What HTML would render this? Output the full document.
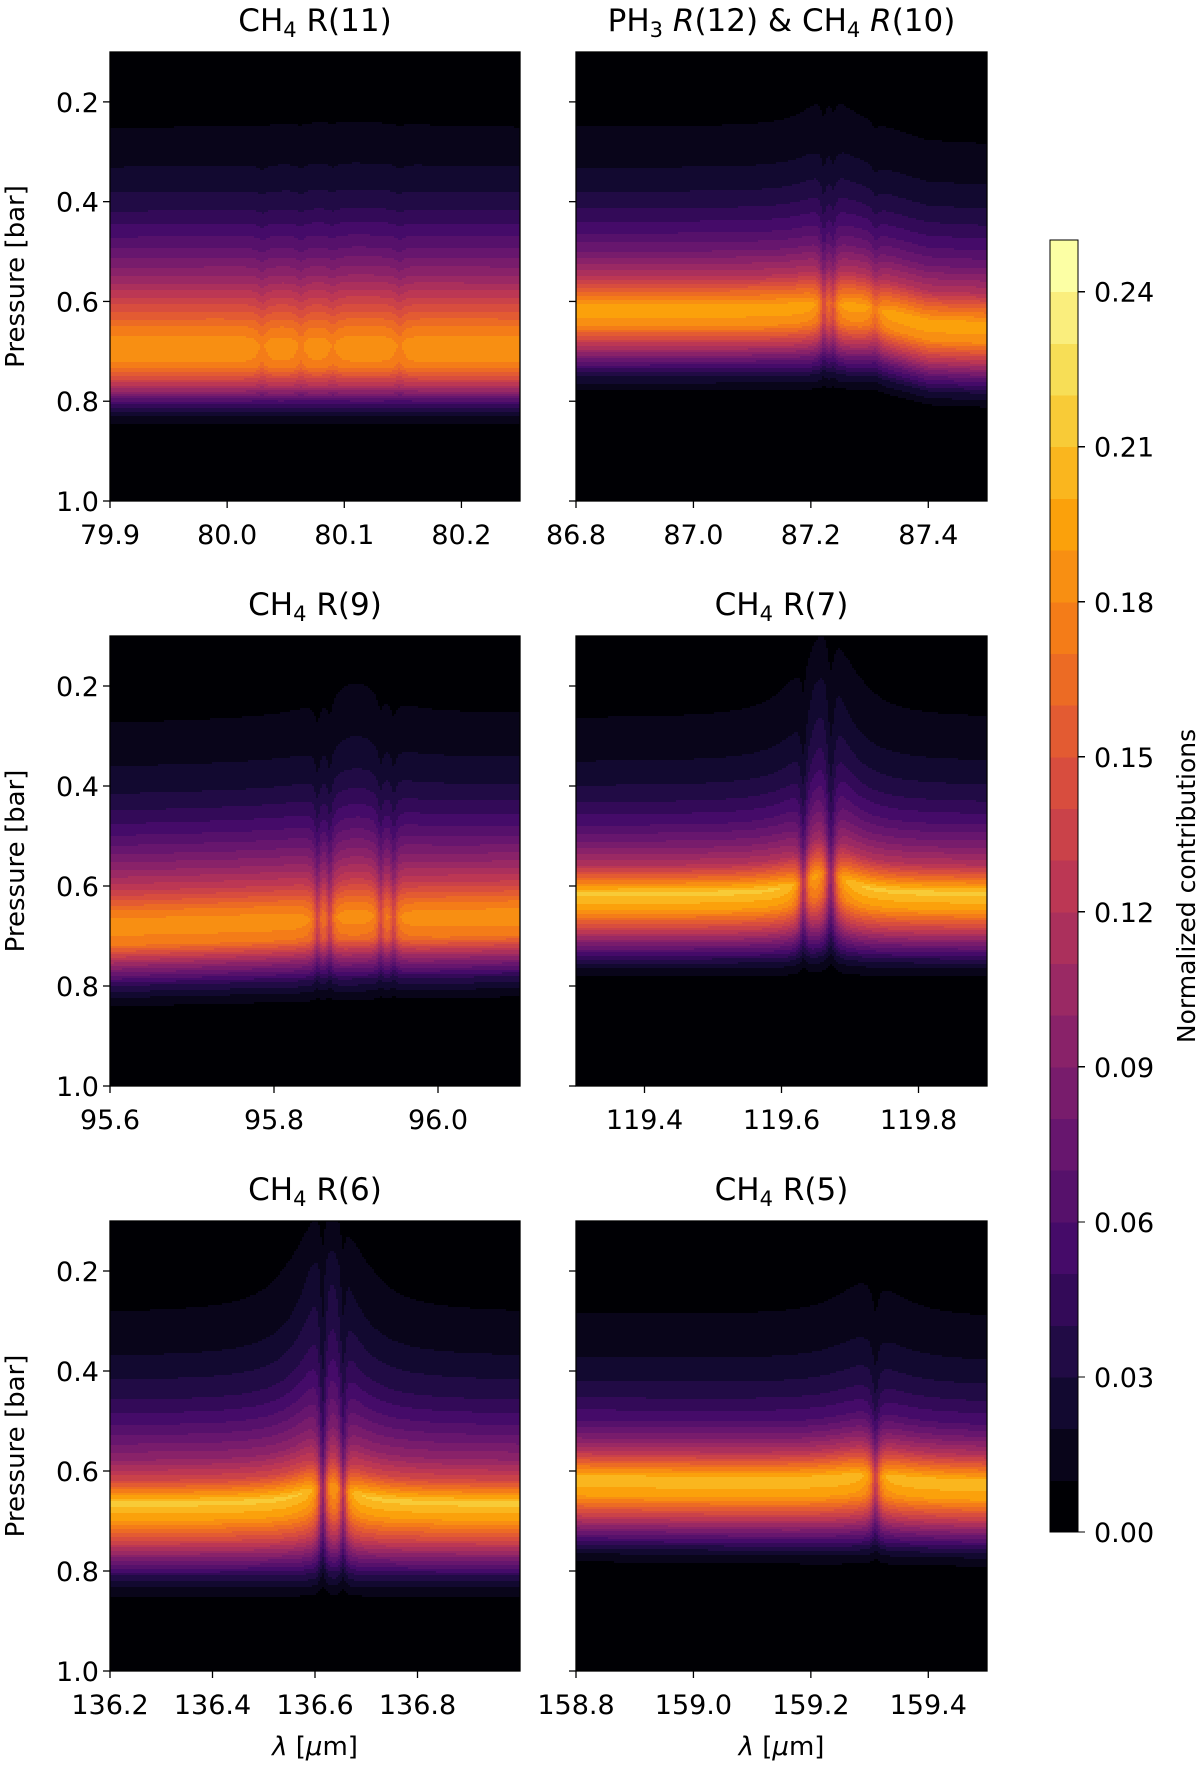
<!DOCTYPE html>
<html><head><meta charset="utf-8"><style>
html,body{margin:0;padding:0;background:#fff;}
svg{display:block;font-family:"DejaVu Sans","Liberation Sans",sans-serif;}
</style></head>
<body>
<svg id="fig" width="1200" height="1767" viewBox="0 0 1200 1767" xmlns="http://www.w3.org/2000/svg"></svg>
<script>
// ---- data ----
const panelTitles = [["CH","4"," R(11)"],["PH","3"," R(12) & CH","4"," R(10)"],["CH","4"," R(9)"],["CH","4"," R(7)"],["CH","4"," R(6)"],["CH","4"," R(5)"]];
const xRanges = [[79.9,80.25],[86.8,87.5],[95.6,96.1],[119.3,119.9],[136.2,137.0],[158.8,159.5]];
const xTicks = [[79.9,80.0,80.1,80.2],[86.8,87.0,87.2,87.4],[95.6,95.8,96.0],[119.4,119.6,119.8],[136.2,136.4,136.6,136.8],[158.8,159.0,159.2,159.4]];
const yTicks = [0.2,0.4,0.6,0.8,1.0];
const cbTicks = [0.00,0.03,0.06,0.09,0.12,0.15,0.18,0.21,0.24];
// base vertical contribution profiles: pressure nodes and values
const profP = [
 [0.1,0.2,0.24,0.26,0.3,0.34,0.38,0.42,0.46,0.5,0.55,0.6,0.65,0.69,0.73,0.77,0.8,0.83,0.85,0.9,1.0],
 [0.1,0.2,0.24,0.26,0.3,0.34,0.38,0.42,0.46,0.5,0.55,0.58,0.615,0.65,0.69,0.72,0.75,0.78,0.8,1.0],
 [0.1,0.2,0.25,0.28,0.32,0.36,0.4,0.44,0.48,0.52,0.56,0.6,0.64,0.67,0.71,0.75,0.79,0.82,0.84,0.9,1.0],
 [0.1,0.2,0.25,0.28,0.32,0.36,0.4,0.44,0.48,0.52,0.56,0.59,0.615,0.65,0.69,0.72,0.75,0.77,0.79,1.0],
 [0.1,0.2,0.27,0.3,0.34,0.38,0.42,0.46,0.5,0.54,0.58,0.62,0.665,0.7,0.74,0.78,0.81,0.84,0.86,1.0],
 [0.1,0.2,0.27,0.3,0.34,0.38,0.42,0.46,0.5,0.53,0.56,0.59,0.615,0.65,0.69,0.72,0.75,0.77,0.79,1.0]
];
const profV = [
 [0,0.002,0.008,0.011,0.016,0.021,0.029,0.04,0.055,0.072,0.1,0.135,0.17,0.19,0.178,0.12,0.06,0.02,0.008,0,0],
 [0,0.002,0.009,0.011,0.016,0.021,0.03,0.042,0.058,0.08,0.12,0.16,0.2,0.18,0.12,0.07,0.03,0.008,0,0],
 [0,0.002,0.009,0.011,0.016,0.021,0.028,0.04,0.055,0.075,0.1,0.13,0.17,0.19,0.17,0.1,0.04,0.015,0.006,0,0],
 [0,0.002,0.009,0.011,0.016,0.021,0.03,0.042,0.06,0.085,0.12,0.17,0.215,0.19,0.13,0.08,0.035,0.015,0.006,0],
 [0,0.003,0.009,0.011,0.016,0.021,0.03,0.04,0.055,0.075,0.1,0.14,0.215,0.19,0.14,0.08,0.04,0.015,0.006,0],
 [0,0.003,0.009,0.011,0.016,0.021,0.03,0.042,0.06,0.085,0.12,0.17,0.21,0.19,0.13,0.08,0.035,0.015,0.006,0]
];
// spectral line features per panel
const lineCenters = [[80.03,80.063,80.09,80.147],[87.222,87.238,87.31],[95.853,95.868,95.93,95.946],[119.632,119.672],[136.615,136.655],[159.31]];
const lineDips = [[0.06,0.06,0.05,0.06],[0.25,0.2,0.12],[0.25,0.25,0.22,0.22],[0.4,0.5],[0.5,0.4],[0.35]];
const lineWidths = [[0.004,0.004,0.004,0.004],[0.006,0.006,0.008],[0.004,0.004,0.004,0.004],[0.006,0.008],[0.008,0.007],[0.007]];
const broadCenters = [80.1,87.23,95.9,119.665,136.625,159.3];
const broadWidths = [0.08,0.05,0.05,0.045,0.07,0.07];
const broadShifts = [0.015,0.06,0.07,0.19,0.23,0.08];
// pressure offset drifting with wavelength (x node, p offset)
const driftX = [[79.9,80.25],[86.8,87.3,87.4,87.5],[95.6,96.1],[119.3,119.9],[136.2,137.0],[158.8,159.5]];
const driftP = [[0,0],[0,0,0.03,0.035],[0.01,-0.01],[0,0],[0,0],[0,0.01]];

// ---- colormap (inferno) ----
const inf=[[0,0,4],[22,11,57],[66,10,104],[106,23,110],[147,38,103],[188,55,84],[221,81,58],[243,120,25],[252,165,10],[246,215,70],[252,255,164]];
function infColor(t){t=Math.max(0,Math.min(1,t));const f=t*10,i=Math.min(9,Math.floor(f)),u=f-i;const a=inf[i],b=inf[i+1];
 return "rgb("+[0,1,2].map(k=>Math.round(a[k]+(b[k]-a[k])*u)).join(",")+")";}
const NLEV=25;
function levColor(i){return infColor(i/(NLEV-1));}

const NS="http://www.w3.org/2000/svg";
const svg=document.getElementById("fig");
function mk(tag,attrs,parent){const e=document.createElementNS(NS,tag);for(const k in attrs)e.setAttribute(k,attrs[k]);(parent||svg).appendChild(e);return e;}

const colX=[[110,520],[576,987]];
const rowY=[[52,501],[636,1086],[1221,1671]];
const titleY=[31,615,1200];
const tickLblY=[544,1129,1714];

function interp(xs,ys,x){if(x<=xs[0])return ys[0];for(let i=1;i<xs.length;i++){if(x<=xs[i]){const u=(x-xs[i-1])/(xs[i]-xs[i-1]);return ys[i-1]+(ys[i]-ys[i-1])*u;}}return ys[ys.length-1];}
function lor(x,c,w){const d=(x-c)/w;return 1/(1+d*d);}

function value(k,x,p){
 let sh=broadShifts[k]*lor(x,broadCenters[k],broadWidths[k]);
 let depth=Math.max(0,Math.min(1,(0.9-p)/0.7));
 depth=depth*depth;
 let pe=p+sh*depth - interp(driftX[k],driftP[k],x);
 let v=interp(profP[k],profV[k],pe);
 let dip=0;
 for(let j=0;j<lineCenters[k].length;j++){dip+=lineDips[k][j]*lor(x,lineCenters[k][j],lineWidths[k][j]);}
 return v*Math.max(0,1-dip);
}

for(let k=0;k<6;k++){
 const c=k%2,r=Math.floor(k/2);
 const [x0,x1]=colX[c],[y0,y1]=rowY[r];
 const [xmin,xmax]=xRanges[k];
 const sx=v=>x0+(v-xmin)/(xmax-xmin)*(x1-x0);
 const sy=p=>y0+(p-0.1)/0.9*(y1-y0);
 const g=mk("g",{});
 
 
 const hm=mk("g",{"shape-rendering":"crispEdges"},g);
 
 
 const cw=2,ch=2;
 for(let py=y0;py<y1;py+=ch){
  const p=0.1+((py+ch/2)-y0)/(y1-y0)*0.9;
  const h=Math.min(ch,y1-py)+0.3;
  let runStart=x0,runLev=-1;
  const flush=(endX)=>{
   if(runLev<0)return;
   const re=mk("rect",{x:runStart,y:py,width:endX-runStart+0.3,height:h,fill:levColor(runLev)},hm);
   
   
  };
  for(let px=x0;px<x1;px+=cw){
   const x=xmin+((px+cw/2)-x0)/(x1-x0)*(xmax-xmin);
   const lev=Math.max(0,Math.min(NLEV-1,Math.floor(value(k,x,p)/0.01)));
   if(lev!==runLev){flush(px);runStart=px;runLev=lev;}
  }
  flush(x1);
 }
 const fr=mk("rect",{x:x0,y:y0,width:x1-x0,height:y1-y0,fill:"none",stroke:"#000","stroke-width":1.3},g);
 
 
 yTicks.forEach(t=>{const y=sy(t);mk("line",{x1:x0-7,x2:x0,y1:y,y2:y,stroke:"#000","stroke-width":1.3},g);
  if(c===0){const tx=mk("text",{x:x0-11,y:y+10,"text-anchor":"end","font-size":27,fill:"#000"},g);tx.textContent=t.toFixed(1);
   
   }});
 xTicks[k].forEach(t=>{const x=sx(t);mk("line",{x1:x,x2:x,y1:y1,y2:y1+7,stroke:"#000","stroke-width":1.3},g);
  const tx=mk("text",{x:x,y:tickLblY[r],"text-anchor":"middle","font-size":27,fill:"#000"},g);tx.textContent=t.toFixed(1);
  
  });
 const tt=mk("text",{x:(x0+x1)/2,y:titleY[r],"text-anchor":"middle","font-size":31,fill:"#000"},g);
 
 
 panelTitles[k].forEach((s,i)=>{
  if(i%2===1){const sp=mk("tspan",{"font-size":21,dy:6},tt);sp.textContent=s;}
  else{
   const parts=s.split(/(R)(?=\()/);
   parts.forEach((pt,j)=>{const sp=mk("tspan",{},tt);if(i>0&&j===0)sp.setAttribute("dy",-6);
    if(pt==="R"&&k===1)sp.setAttribute("font-style","italic");sp.textContent=pt;});
  }
 });
 if(c===0){const yl=mk("text",{x:0,y:0,transform:"translate(24,"+((y0+y1)/2)+") rotate(-90)","text-anchor":"middle","font-size":26,fill:"#000"},g);
  yl.textContent="Pressure [bar]";
  
  }
 if(r===2){const xl=mk("text",{x:(x0+x1)/2,y:1755,"text-anchor":"middle","font-size":26,fill:"#000"},g);
  const a=mk("tspan",{"font-style":"italic"},xl);a.textContent="λ";
  const b=mk("tspan",{},xl);b.textContent=" [";
  const m=mk("tspan",{"font-style":"italic"},xl);m.textContent="μ";
  const d=mk("tspan",{},xl);d.textContent="m]";
  
  }
}
// colorbar
const cb=mk("g",{"shape-rendering":"crispEdges"});


const cbx0=1050,cbx1=1078,cby0=240,cby1=1532,cbMax=0.25;
const cy=v=>cby1-(v/cbMax)*(cby1-cby0);
for(let i=0;i<NLEV;i++){const re=mk("rect",{x:cbx0,y:cy((i+1)*0.01),width:cbx1-cbx0,height:cy(i*0.01)-cy((i+1)*0.01)+0.5,fill:levColor(i)},cb);
 
 }
mk("rect",{x:cbx0,y:cby0,width:cbx1-cbx0,height:cby1-cby0,fill:"none",stroke:"#000","stroke-width":1.3},cb);
cbTicks.forEach(t=>{const y=cy(t);mk("line",{x1:cbx1,x2:cbx1+7,y1:y,y2:y,stroke:"#000","stroke-width":1.3},cb);
 const tx=mk("text",{x:cbx1+16,y:y+10,"font-size":27,fill:"#000"},cb);tx.textContent=t.toFixed(2);
 
 });
const cl=mk("text",{x:0,y:0,transform:"translate(1195,886) rotate(-90)","text-anchor":"middle","font-size":25,fill:"#000"},cb);
cl.textContent="Normalized contributions";


</script>
</body></html>
